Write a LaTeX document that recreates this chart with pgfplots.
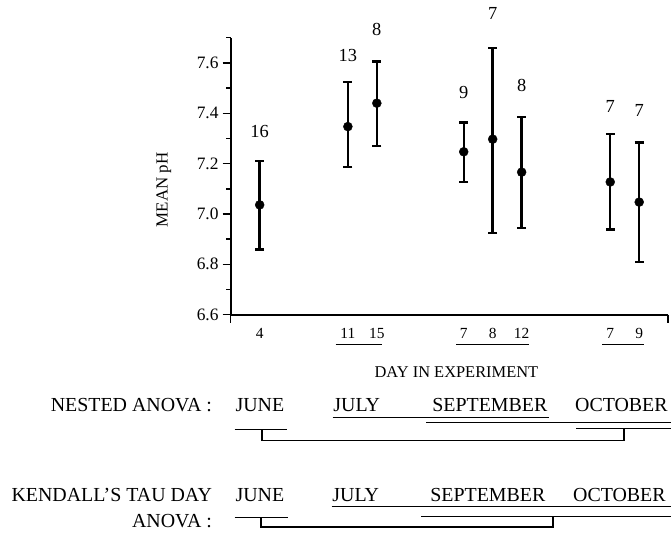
\documentclass[border=0pt]{standalone}
\usepackage{fontspec}
\setmainfont{Liberation Serif}
\usepackage{pgfplots}
\usepackage{pgfplotstable}
\pgfplotsset{compat=1.18}

% mean pH, error bar extents (+/-), height and text of the sample-size labels
\pgfplotstableread{
x     y      ep     em     ny     n
260.0 7.036  0.175  0.177  7.301  16
348.3 7.347  0.176  0.161  7.605  13
377.3 7.440  0.166  0.171  7.708  8
464.3 7.247  0.116  0.120  7.459  9
493.3 7.297  0.362  0.372  7.771  7
522.3 7.166  0.218  0.222  7.483  8
611.0 7.127  0.190  0.189  7.404  7
640.0 7.047  0.237  0.238  7.388  7
}\phdata

\begin{document}
\begin{tikzpicture}
\begin{axis}[
  at={(231bp,-315bp)}, anchor=south west,
  scale only axis, width=438bp, height=277.2bp,
  xmin=231, xmax=669, ymin=6.6, ymax=7.7,
  axis x line*=bottom, axis y line*=left,
  axis line style={-, line width=1.8bp, black},
  clip=false,
  xtick={260,348.3,377.3,464.3,493.3,522.3,611,640},
  xticklabels={4,11,15,7,8,12,7,9},
  xtick style={draw=none},
  xticklabel style={font=\fontsize{15.5}{18}\selectfont, anchor=north, inner sep=0pt, yshift=-5.5bp},
  ytick={6.6,6.8,7.0,7.2,7.4,7.6},
  minor ytick={6.7,6.9,7.1,7.3,7.5,7.7},
  tick align=outside,
  major tick length=8bp, minor tick length=4.5bp,
  every tick/.style={line width=1.5bp, black},
  yticklabel style={font=\fontsize{17.5}{20}\selectfont, inner sep=0pt, anchor=east, xshift=-4bp,
    /pgf/number format/fixed, /pgf/number format/fixed zerofill, /pgf/number format/precision=1},
  /pgf/number format/assume math mode=true,
  ylabel={MEAN pH},
  ylabel style={font=\fontsize{17}{20}\selectfont, at={(axis description cs:-0.153,0.451)}, anchor=center},
]
\addplot[black, mark=*, mark size=4.5bp, only marks,
  error bars/.cd, y dir=both, y explicit,
  error bar style={line width=2.4bp, black},
  error mark options={rotate=90, mark size=4.5bp, line width=2.2bp, black}]
  table[x=x, y=y, y error plus=ep, y error minus=em] {\phdata};
\addplot[draw=none, mark=none, nodes near coords, point meta=explicit symbolic,
  every node near coord/.append style={font=\fontsize{18.5}{21}\selectfont, inner sep=0pt, anchor=south}]
  table[x=x, y=ny, meta=n] {\phdata};
\end{axis}

\begin{scope}[x=1bp, y=-1bp, line width=1.7bp]
  \path (0,0) rectangle (672,533);
  % end ticks of the day axis
  \draw[line width=1.5bp] (231,315) -- (231,323);
  \draw[line width=1.5bp] (669,315) -- (669,323);
  % days grouped by month
  \draw (336,345) -- (382,345);
  \draw (457,345) -- (530,345);
  \draw (603,345) -- (645,345);
  \node[anchor=base, inner sep=0pt, font=\fontsize{16.5}{19}\selectfont] at (457,378) {DAY IN EXPERIMENT};

  % nested ANOVA groupings
  \begin{scope}[every node/.style={inner sep=0pt, font=\fontsize{20}{24}\selectfont}]
    \node[anchor=base east] at (213,412.5) {NESTED ANOVA :};
    \node[anchor=base west] at (235,412.5) {JUNE};
    \node[anchor=base west] at (333,412.5) {JULY};
    \node[anchor=base west] at (432,412.5) {SEPTEMBER};
    \node[anchor=base west] at (575,412.5) {OCTOBER};
    \node[anchor=base east] at (213,502.5) {KENDALL'S TAU DAY};
    \node[anchor=base east] at (213,528) {ANOVA :};
    \node[anchor=base west] at (235,502.5) {JUNE};
    \node[anchor=base west] at (332,502.5) {JULY};
    \node[anchor=base west] at (430,502.5) {SEPTEMBER};
    \node[anchor=base west] at (573,502.5) {OCTOBER};
  \end{scope}
  \draw (333,418) -- (550,418);
  \draw (427,423) -- (672,423);
  \draw (235,430) -- (287,430);
  \draw (577,429) -- (672,429);
  \draw (262,430) -- (262,441) -- (625,441) -- (625,429);

  % Kendall's tau day ANOVA groupings
  \draw (332,507) -- (672,507);
  \draw (422,517) -- (672,517);
  \draw (235,518) -- (288,518);
  \draw (261,518) -- (261,528) -- (554,528) -- (554,517);
\end{scope}
\end{tikzpicture}
\end{document}
